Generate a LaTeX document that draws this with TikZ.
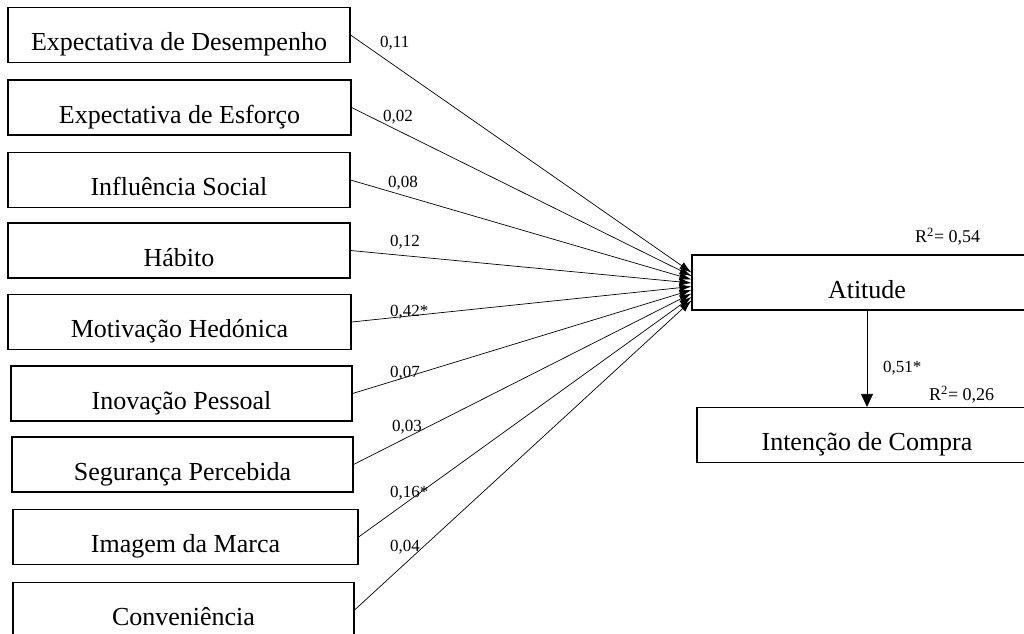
\documentclass[tikz,border=0pt]{standalone}
\usepackage{fontspec}
\setmainfont{Liberation Serif}
\usetikzlibrary{arrows.meta}

\begin{document}
\begin{tikzpicture}[x=1pt,y=-1pt,
		caixa/.style={draw,line width=1.1pt,inner xsep=0pt,inner ysep=0pt,text height=43pt,text depth=12pt,minimum width=#1,font=\fontsize{26}{30}\selectfont},
		caixa/.default=342pt,
		peso/.style={anchor=west,inner sep=0pt,font=\fontsize{17}{20}\selectfont},
		rquad/.style={anchor=west,inner sep=0pt,font=\fontsize{18}{21}\selectfont},
		seta/.style={line width=0.7pt,-{Latex[length=12pt,width=8pt]}}]
		\useasboundingbox(0,0)rectangle(1024,633);
		\clip(0,0)rectangle(1024,633);
		\node[caixa](ed)at(179,35){Expectativa de Desempenho};
		\node[caixa=343pt](ee)at(179.5,107.5){Expectativa de Esforço};
		\node[caixa](is)at(179,180){Influência Social};
		\node[caixa](hb)at(179,250.5){Hábito};
		\node[caixa=343pt](mh)at(179.5,322){Motivação Hedónica};
		\node[caixa=341pt](ip)at(181.5,393.5){Inovação Pessoal};
		\node[caixa=341pt](sp)at(182.5,464.5){Segurança Percebida};
		\node[caixa=345pt](im)at(185.5,537){Imagem da Marca};
		\node[caixa=341pt](cv)at(183.5,610){Conveniência};
		\node[caixa=350pt](at)at(867,282.5){Atitude};
		\node[caixa=340pt](ic)at(867,435){Intenção de Compra};
		\draw[seta](ed.east)--([yshift=10pt]at.west);
		\draw[seta](ee.east)--([yshift=6.5pt]at.west);
		\draw[seta](is.east)--([yshift=3pt]at.west);
		\draw[seta](hb.east)--([yshift=-0.5pt]at.west);
		\draw[seta](mh.east)--([yshift=-4pt]at.west);
		\draw[seta](ip.east)--([yshift=-7.5pt]at.west);
		\draw[seta](sp.east)--([yshift=-11pt]at.west);
		\draw[seta](im.east)--([yshift=-14.5pt]at.west);
		\draw[seta](cv.east)--([yshift=-18pt]at.west);
		\draw[line width=0.7pt,-{Triangle[length=13pt,width=12pt]}](at.south)--(ic.north);
		\node[peso](p1)at(380,43){0,11};
		\node[peso](p2)at(383,117){0,02};
		\node[peso](p3)at(388,183){0,08};
		\node[peso](p4)at(390,242){0,12};
		\node[peso](p5)at(390,312){0,42*};
		\node[peso](p6)at(390,373){0,07};
		\node[peso](p7)at(392,427){0,03};
		\node[peso](p8)at(390,493){0,16*};
		\node[peso](p9)at(390,547){0,04};
		\node[peso](p10)at(883,368){0,51*};
		\node[rquad](r1)at(915,237){R\textsuperscript{2}= 0,54};
		\node[rquad](r2)at(929,395){R\textsuperscript{2}= 0,26};
	\end{tikzpicture}
\end{document}
